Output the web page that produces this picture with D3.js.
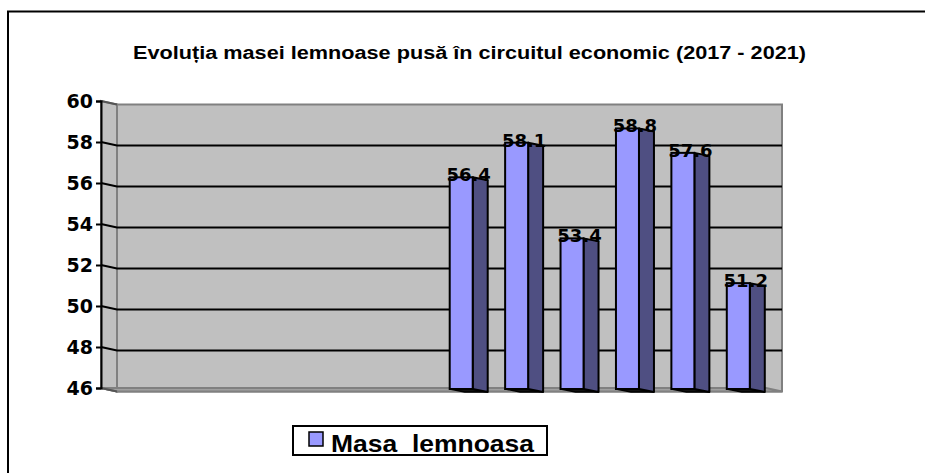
<!DOCTYPE html>
<html>
<head>
<meta charset="utf-8">
<script src="https://cdn.jsdelivr.net/npm/d3@7"></script>
<style>
  body { margin: 0; background: #fff; overflow: hidden; }
  svg { display: block; }
</style>
</head>
<body>
<div id="chart"></div>
<script>
var title = 'Evoluția masei lemnoase pusă în circuitul economic (2017 - 2021)';
var seriesName = 'Masa  lemnoasa';
var categories = ['1', '2', '3', '4', '5', '6', '7', '8', '9', '10', '11', '12'];
var values = [null, null, null, null, null, null, 56.4, 58.1, 53.4, 58.8, 57.6, 51.2];
var yTicks = [46, 48, 50, 52, 54, 56, 58, 60];

var width = 925, height = 473;
var depthX = 16, depthY = 3.5;
var frontColor = '#9999FF', sideColor = '#4F4F82', wallColor = '#C0C0C0';

var svg = d3.select('#chart').append('svg')
  .attr('width', width).attr('height', height);

// outer chart border: only the top and left edges fall inside the picture
svg.append('path')
  .attr('d', 'M8,' + height + 'L8,11.5L' + width + ',11.5')
  .attr('fill', 'none').attr('stroke', '#000').attr('stroke-width', 2);

svg.append('text')
  .attr('x', 133).attr('y', 59)
  .attr('font-family', 'Liberation Sans, Arial, sans-serif')
  .attr('font-weight', 'bold').attr('font-size', 18)
  .attr('textLength', 673).attr('lengthAdjust', 'spacingAndGlyphs')
  .text(title);

// front plane scales
var x = d3.scaleBand().domain(categories).range([101, 766]).paddingInner(0.585).paddingOuter(0.2925);
var y = d3.scaleLinear().domain([46, 60]).range([388, 101]);
var yBar = d3.scaleLinear().domain([46, 60]).range([389, 104]);

var x0 = 101, x1 = 766;

// side wall
svg.append('path')
  .attr('d', 'M' + x0 + ',' + y(60) + 'L' + (x0 + depthX) + ',' + (y(60) + depthY) +
    'L' + (x0 + depthX) + ',' + (y(46) + depthY) + 'L' + x0 + ',' + y(46) + 'Z')
  .attr('fill', wallColor).attr('stroke', '#808080').attr('stroke-width', 2);

// back wall
svg.append('rect')
  .attr('x', x0 + depthX).attr('y', y(60) + depthY)
  .attr('width', x1 - x0).attr('height', y(46) - y(60))
  .attr('fill', wallColor).attr('stroke', '#808080').attr('stroke-width', 2);

// floor
svg.append('path')
  .attr('d', 'M' + x0 + ',' + y(46) + 'L' + x1 + ',' + y(46) +
    'L' + (x1 + depthX) + ',' + (y(46) + depthY) + 'L' + (x0 + depthX) + ',' + (y(46) + depthY) + 'Z')
  .attr('fill', '#A0A0A0').attr('stroke', '#808080').attr('stroke-width', 2);

// gridlines on walls
var grid = svg.append('g');
yTicks.filter(function(d) { return d > 46 && d < 60; }).forEach(function(d) {
  grid.append('path')
    .attr('d', 'M' + x0 + ',' + y(d) + 'L' + (x0 + depthX) + ',' + (y(d) + depthY) + 'L' + (x1 + depthX) + ',' + (y(d) + depthY))
    .attr('fill', 'none').attr('stroke', '#000').attr('stroke-width', 2);
});
[46, 60].forEach(function(d) {
  grid.append('line')
    .attr('x1', x0).attr('y1', y(d)).attr('x2', x0 + depthX).attr('y2', y(d) + depthY)
    .attr('stroke', '#555').attr('stroke-width', 2);
});

// y axis
var yAxis = d3.axisLeft(y).tickValues(yTicks).tickSize(5).tickPadding(3);
var gy = svg.append('g').attr('transform', 'translate(' + x0 + ',0)').call(yAxis);
gy.select('.domain').attr('stroke', '#000').attr('stroke-width', 2);
gy.selectAll('.tick line').attr('stroke', '#000').attr('stroke-width', 2);
gy.selectAll('.tick text')
  .attr('font-family', 'DejaVu Sans, Verdana, sans-serif')
  .attr('font-weight', 'bold').attr('font-size', 19).attr('fill', '#000');

// bars
var data = categories.map(function(c, i) { return { cat: c, value: values[i] }; })
  .filter(function(d) { return d.value !== null; });
var bw = x.bandwidth(), bd = 15, bdy = 3;

var bars = svg.append('g').selectAll('g').data(data).enter().append('g');

bars.append('path')
  .attr('d', function(d) {
    var l = x(d.cat), b = yBar(46);
    return 'M' + l + ',' + b + 'L' + (l + bw) + ',' + b + 'L' + (l + bw + bd) + ',' + (b + bdy) + 'L' + (l + bd) + ',' + (b + bdy) + 'Z';
  })
  .attr('fill', '#111').attr('stroke', '#000').attr('stroke-width', 1.5);

bars.append('path')
  .attr('d', function(d) {
    var r = x(d.cat) + bw, t = yBar(d.value), b = yBar(46);
    return 'M' + r + ',' + t + 'L' + (r + bd) + ',' + (t + bdy) + 'L' + (r + bd) + ',' + (b + bdy) + 'L' + r + ',' + b + 'Z';
  })
  .attr('fill', sideColor).attr('stroke', '#000').attr('stroke-width', 2).attr('stroke-linejoin', 'round');

bars.append('rect')
  .attr('x', function(d) { return x(d.cat); })
  .attr('y', function(d) { return yBar(d.value); })
  .attr('width', bw)
  .attr('height', function(d) { return yBar(46) - yBar(d.value); })
  .attr('fill', frontColor).attr('stroke', '#000').attr('stroke-width', 2);

bars.append('text')
  .attr('x', function(d) { return x(d.cat) + (bw + bd) / 2; })
  .attr('y', function(d) { return yBar(d.value) + 4; })
  .attr('text-anchor', 'middle')
  .attr('font-family', 'DejaVu Sans, Verdana, sans-serif')
  .attr('font-weight', 'bold').attr('font-size', 18).attr('fill', '#000')
  .text(function(d) { return d.value.toFixed(1); });

// legend
var legend = svg.append('g');
legend.append('rect')
  .attr('x', 293).attr('y', 426).attr('width', 254).attr('height', 29)
  .attr('fill', '#fff').attr('stroke', '#000').attr('stroke-width', 2);
legend.append('rect')
  .attr('x', 309).attr('y', 432).attr('width', 14).attr('height', 14)
  .attr('fill', frontColor).attr('stroke', '#000').attr('stroke-width', 1.5);
legend.append('text')
  .attr('x', 331).attr('y', 452)
  .attr('font-family', 'Liberation Sans, Arial, sans-serif')
  .attr('font-weight', 'bold').attr('font-size', 24)
  .attr('xml:space', 'preserve').style('white-space', 'pre')
  .attr('textLength', 203).attr('lengthAdjust', 'spacingAndGlyphs')
  .text(seriesName);
</script>
</body>
</html>
